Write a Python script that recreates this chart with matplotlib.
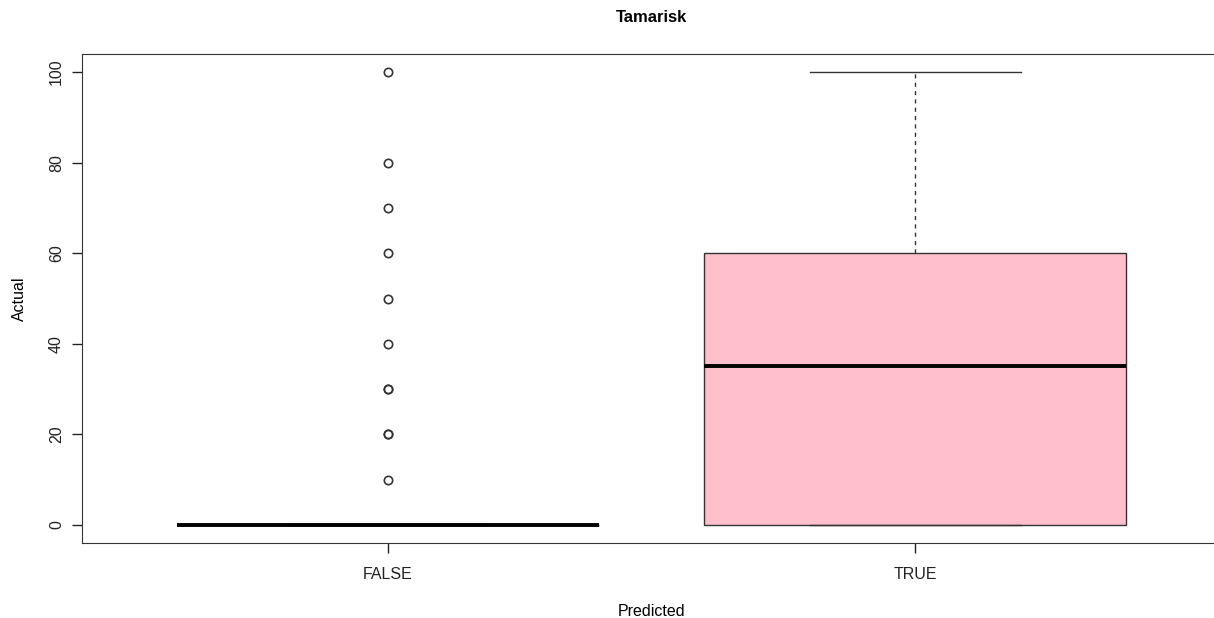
import matplotlib.pyplot as plt

plt.rcParams['font.family'] = ['Liberation Sans', 'DejaVu Sans']

groups = ["FALSE", "TRUE"]
q1 = [0, 0]
medians = [0, 35]
q3 = [0, 60]
whisker_low = [0, 0]
whisker_high = [0, 100]
fliers_false = [10, 20, 20, 30, 30, 40, 50, 60, 70, 80, 100]
fliers_true = []
box_colors = ["white", "pink"]


def build_stats():
    fliers = [fliers_false, fliers_true]
    stats = []
    for i, name in enumerate(groups):
        stats.append({
            "label": name,
            "q1": q1[i],
            "med": medians[i],
            "q3": q3[i],
            "whislo": whisker_low[i],
            "whishi": whisker_high[i],
            "fliers": fliers[i],
        })
    return stats


fig = plt.figure(figsize=(12.14, 6.18), dpi=100)
ax = fig.add_axes([82 / 1214, 75 / 618, 1139 / 1214, 489 / 618])

parts = ax.bxp(
    build_stats(),
    positions=[1, 2],
    widths=0.8,
    patch_artist=True,
    showfliers=True,
    boxprops=dict(edgecolor="#333333", linewidth=1),
    medianprops=dict(color="black", linewidth=2.8),
    whiskerprops=dict(color="#333333", linewidth=1, linestyle=(0, (3, 3))),
    capprops=dict(color="#333333", linewidth=1),
    flierprops=dict(marker="o", markersize=6, markerfacecolor="none",
                    markeredgecolor="#333333", markeredgewidth=1.2),
    capwidths=0.4,
)
for patch, c in zip(parts["boxes"], box_colors):
    patch.set_facecolor(c)

ax.set_xlim(0.42, 2.58)
ax.set_ylim(-4, 104)
ax.set_yticks([0, 20, 40, 60, 80, 100])
ax.set_xticks([1, 2])
ax.set_xticklabels(groups)
for lbl in ax.get_yticklabels():
    lbl.set_rotation(90)
    lbl.set_va("center")
ax.tick_params(direction="out", length=7, width=1, labelsize=11.5, colors="#222222")
ax.tick_params(axis="x", pad=10)
ax.tick_params(axis="y", pad=6)
for s in ax.spines.values():
    s.set_color("#333333")

ax.set_title("Tamarisk", fontsize=12, fontweight="bold", pad=23)
ax.set_xlabel("Predicted", fontsize=11.5, labelpad=16)
ax.set_ylabel("Actual", fontsize=11.5, labelpad=16)

fig.savefig("out.png", dpi=100)
